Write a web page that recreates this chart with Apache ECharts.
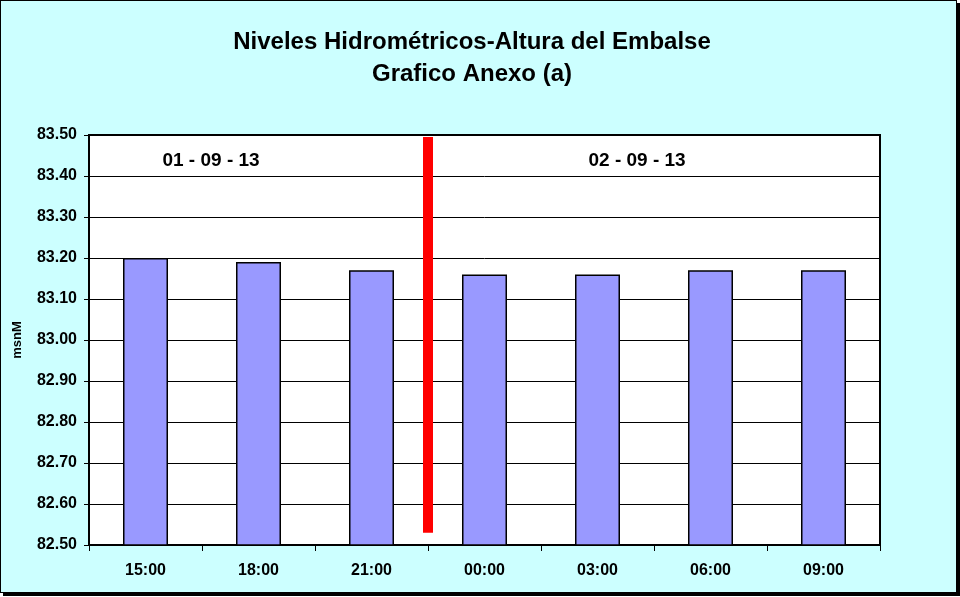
<!DOCTYPE html>
<html><head><meta charset="utf-8">
<script src="https://cdn.jsdelivr.net/npm/echarts@6/dist/echarts.min.js"></script>
<style>
html,body{margin:0;padding:0;background:#fff;overflow:hidden}
#frame{position:absolute;left:0;top:0;width:955px;height:591px;border:1px solid #000;background:#ccffff;box-shadow:3px 3px 0 #000}
#chart{position:absolute;left:0;top:0;width:960px;height:597px}
</style></head><body>
<div id="frame"></div>
<div id="chart"></div>
<script>
const categories = ['15:00','18:00','21:00','00:00','03:00','06:00','09:00'];
const levels = [83.20, 83.19, 83.17, 83.16, 83.16, 83.17, 83.17];
const yTicks = {min: 82.5, max: 83.5, interval: 0.1};
const dayDivider = [[3, 82.53], [3, 83.495]];
const dayLabels = [[1.08, 83.437, '01 - 09 - 13'], [4.85, 83.437, '02 - 09 - 13']];
const titleLines = ['Niveles Hidrométricos-Altura del Embalse', 'Grafico Anexo (a)'];

const font = 'Liberation Sans, Arial, sans-serif';
const chart = echarts.init(document.getElementById('chart'), null, {renderer: 'canvas'});
chart.setOption({
  backgroundColor: 'transparent',
  animation: false,
  title: {
    text: titleLines.join('\n'),
    left: 467, top: 21, textAlign: 'center',
    textStyle: {fontFamily: font, fontSize: 24, fontWeight: 'bold', color: '#000', lineHeight: 32}
  },
  grid: {left: 89, right: 80, top: 135, bottom: 52, show: true, borderColor: '#000', borderWidth: 2, backgroundColor: '#fff'},
  xAxis: [{
    type: 'category', data: categories,
    axisLine: {lineStyle: {color: '#000', width: 2}},
    axisTick: {show: true, length: 6, lineStyle: {color: '#000', width: 1}},
    axisLabel: {fontFamily: font, fontWeight: 'bold', fontSize: 16, color: '#000', margin: 18}
  }, {
    type: 'value', min: 0, max: 7, show: false
  }],
  yAxis: {
    type: 'value', min: yTicks.min, max: yTicks.max, interval: yTicks.interval,
    name: 'msnM', nameLocation: 'middle', nameGap: 65, nameRotate: 90,
    nameTextStyle: {fontFamily: font, fontWeight: 'bold', fontSize: 13, color: '#000'},
    axisLine: {show: true, lineStyle: {color: '#000', width: 2}},
    axisTick: {show: true, length: 5, lineStyle: {color: '#000', width: 1}},
    splitLine: {show: true, lineStyle: {color: '#000', width: 1}},
    axisLabel: {fontFamily: font, fontWeight: 'bold', fontSize: 16, color: '#000', margin: 12,
      formatter: v => v.toFixed(2)}
  },
  series: [{
    type: 'bar', data: levels, barWidth: 45,
    itemStyle: {color: '#9999ff', borderColor: '#000', borderWidth: 1.5}
  }, {
    type: 'line', xAxisIndex: 1, data: dayDivider, symbol: 'none',
    lineStyle: {color: '#ff0000', width: 10, cap: 'butt'}
  }, {
    type: 'scatter', xAxisIndex: 1, symbolSize: 0,
    itemStyle: {opacity: 1},
    data: dayLabels.map(d => ({value: [d[0], d[1]], name: d[2]})),
    label: {show: true, position: 'inside', formatter: p => p.name,
      fontFamily: font, fontWeight: 'bold', fontSize: 19, color: '#000'}
  }]
});
</script></body></html>
